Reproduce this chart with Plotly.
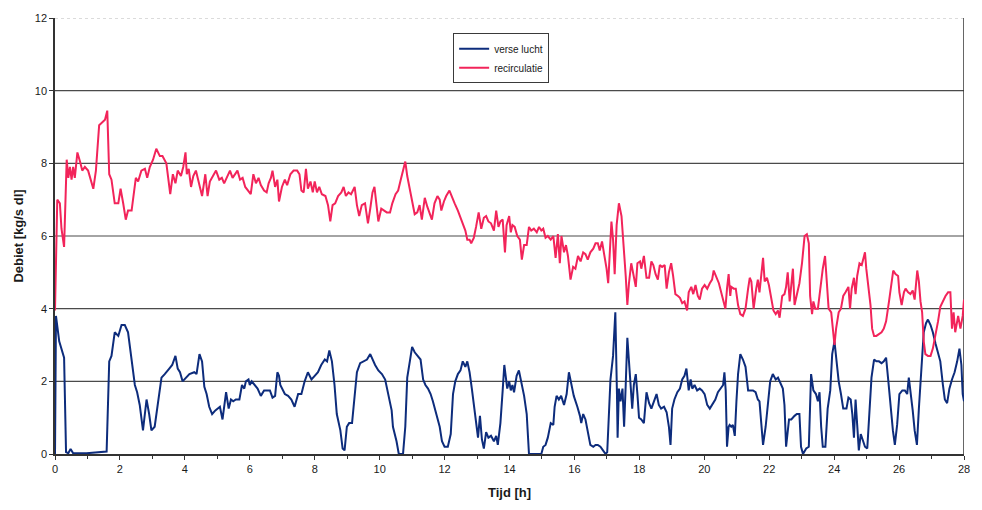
import plotly.graph_objects as go

# Debiet over tijd: verse lucht (blauw) en recirculatie (rood)
verse_t = [0.00, 0.03, 0.13, 0.20, 0.28, 0.34, 0.41, 0.48, 0.56, 0.97, 1.48, 1.59, 1.67, 1.74, 1.84,
           1.95, 2.05, 2.15, 2.25, 2.36, 2.46, 2.53, 2.61, 2.71, 2.82, 2.90, 2.97, 3.07, 3.17, 3.28,
           3.38, 3.42, 3.52, 3.61, 3.71, 3.78, 3.85, 3.93, 4.04, 4.14, 4.29, 4.36, 4.45, 4.53, 4.60,
           4.67, 4.75, 4.84, 4.94, 5.01, 5.08, 5.16, 5.21, 5.27, 5.35, 5.42, 5.49, 5.57, 5.68, 5.76,
           5.83, 5.88, 5.96, 6.00, 6.06, 6.14, 6.24, 6.34, 6.44, 6.55, 6.62, 6.70, 6.78, 6.85, 6.90,
           6.94, 6.99, 7.08, 7.18, 7.28, 7.38, 7.49, 7.59, 7.69, 7.79, 7.90, 8.00, 8.10, 8.20, 8.31,
           8.38, 8.45, 8.53, 8.61, 8.68, 8.79, 8.86, 8.92, 8.99, 9.06, 9.15, 9.23, 9.30, 9.40, 9.50,
           9.61, 9.71, 9.78, 9.86, 9.96, 10.07, 10.17, 10.27, 10.37, 10.41, 10.52, 10.59, 10.72, 10.79,
           10.85, 10.93, 11.00, 11.08, 11.16, 11.26, 11.34, 11.41, 11.49, 11.57, 11.64, 11.74, 11.85,
           11.92, 12.00, 12.10, 12.19, 12.26, 12.33, 12.41, 12.49, 12.56, 12.64, 12.70, 12.77, 12.84,
           12.92, 12.97, 13.03, 13.09, 13.15, 13.21, 13.28, 13.35, 13.43, 13.52, 13.59, 13.64, 13.72,
           13.79, 13.84, 13.93, 13.99, 14.04, 14.09, 14.14, 14.22, 14.29, 14.36, 14.45, 14.53, 14.60,
           14.98, 15.04, 15.11, 15.18, 15.27, 15.35, 15.39, 15.45, 15.52, 15.59, 15.68, 15.76, 15.83,
           15.90, 15.98, 16.09, 16.17, 16.21, 16.27, 16.34, 16.41, 16.49, 16.58, 16.65, 16.72, 16.80,
           16.88, 16.96, 17.01, 17.06, 17.11, 17.19, 17.26, 17.31, 17.33, 17.37, 17.42, 17.48, 17.53,
           17.58, 17.63, 17.68, 17.73, 17.78, 17.83, 17.89, 17.94, 17.99, 18.06, 18.14, 18.22, 18.30,
           18.37, 18.45, 18.53, 18.60, 18.67, 18.76, 18.84, 18.91, 18.96, 19.01, 19.08, 19.17, 19.25,
           19.32, 19.39, 19.45, 19.52, 19.58, 19.63, 19.70, 19.78, 19.86, 19.93, 20.01, 20.09, 20.17,
           20.24, 20.34, 20.42, 20.50, 20.58, 20.62, 20.66, 20.70, 20.75, 20.78, 20.83, 20.88, 20.94,
           20.99, 21.04, 21.11, 21.19, 21.27, 21.35, 21.42, 21.50, 21.58, 21.65, 21.70, 21.76, 21.81,
           21.89, 21.96, 22.03, 22.11, 22.20, 22.27, 22.34, 22.42, 22.47, 22.52, 22.61, 22.68, 22.78,
           22.85, 22.93, 22.98, 23.04, 23.09, 23.14, 23.22, 23.29, 23.36, 23.44, 23.50, 23.55, 23.60,
           23.65, 23.73, 23.80, 23.88, 23.94, 24.01, 24.08, 24.14, 24.21, 24.28, 24.38, 24.44, 24.51,
           24.56, 24.61, 24.66, 24.71, 24.76, 24.82, 24.89, 24.95, 25.02, 25.09, 25.15, 25.23, 25.30,
           25.38, 25.46, 25.53, 25.60, 25.67, 25.74, 25.81, 25.87, 25.94, 26.01, 26.10, 26.18, 26.25,
           26.30, 26.35, 26.42, 26.48, 26.55, 26.61, 26.69, 26.76, 26.83, 26.89, 26.97, 27.04, 27.12,
           27.20, 27.27, 27.35, 27.41, 27.48, 27.55, 27.63, 27.71, 27.79, 27.86, 27.92, 27.96, 28.00]
verse_v = [0.00, 3.80, 3.10, 2.90, 2.65, 0.05, 0.02, 0.14, 0.02, 0.02, 0.05, 0.07, 2.55, 2.70, 3.35,
           3.25, 3.55, 3.55, 3.35, 2.65, 1.90, 1.70, 1.35, 0.65, 1.50, 1.10, 0.65, 0.75, 1.45, 2.10,
           2.20, 2.25, 2.35, 2.45, 2.70, 2.35, 2.25, 2.00, 2.10, 2.20, 2.25, 2.20, 2.75, 2.55, 1.85,
           1.65, 1.30, 1.10, 1.20, 1.25, 1.30, 0.95, 1.30, 1.70, 1.25, 1.50, 1.45, 1.50, 1.50, 1.90,
           1.80, 2.00, 2.05, 1.90, 2.00, 1.90, 1.80, 1.60, 1.75, 1.75, 1.75, 1.55, 1.60, 2.25, 2.15,
           1.90, 1.80, 1.65, 1.60, 1.50, 1.30, 1.65, 1.65, 2.00, 2.25, 2.05, 2.15, 2.25, 2.45, 2.60,
           2.55, 2.85, 2.55, 1.90, 1.10, 0.65, 0.15, 0.10, 0.75, 0.85, 0.85, 1.65, 2.25, 2.50, 2.55,
           2.60, 2.75, 2.60, 2.45, 2.30, 2.20, 2.05, 1.65, 1.20, 0.75, 0.35, 0.00, 0.00, 0.75,
           2.10, 2.55, 2.95, 2.80, 2.70, 2.60, 2.05, 1.90, 1.80, 1.65, 1.45, 1.10, 0.75,
           0.35, 0.20, 0.20, 0.55, 1.65, 2.00, 2.20, 2.30, 2.55, 2.40, 2.55, 2.25, 1.80,
           1.25, 0.80, 0.45, 1.05, 0.40, 0.15, 0.60, 0.45, 0.50, 0.35, 0.50, 0.25, 0.85,
           1.75, 2.45, 1.80, 2.00, 1.75, 1.90, 1.70, 2.15, 2.30, 2.00, 1.60, 1.10, 0.00,
           0.00, 0.20, 0.25, 0.45, 0.85, 0.80, 1.30, 1.60, 1.50, 1.60, 1.35, 1.65, 2.25,
           1.90, 1.60, 1.30, 1.05, 0.85, 1.10, 0.95, 0.65, 0.25, 0.20, 0.25, 0.25, 0.20,
           0.10, 0.00, 0.05, 1.15, 2.05, 2.70, 3.90, 1.65, 0.45, 1.80, 1.45, 1.80, 0.75,
           1.90, 3.20, 2.55, 1.80, 1.25, 1.90, 2.20, 1.65, 1.00, 0.95, 0.85, 1.70, 1.40,
           1.25, 1.45, 1.65, 1.35, 1.25, 1.30, 1.15, 0.75, 0.25, 1.25, 1.50, 1.70, 1.80,
           2.05, 2.15, 2.35, 1.75, 2.05, 1.80, 1.90, 1.75, 1.80, 1.75, 1.65, 1.35, 1.25,
           1.35, 1.50, 1.70, 1.80, 1.90, 2.25, 1.75, 0.20, 0.75, 0.80, 0.75, 0.80, 0.50,
           1.45, 2.20, 2.75, 2.60, 2.40, 1.75, 1.75, 1.75, 1.70, 1.50, 1.45, 0.75, 0.25,
           0.75, 1.45, 2.00, 2.20, 2.05, 2.10, 1.95, 1.80, 1.35, 0.20, 0.95, 0.95, 1.05,
           1.10, 1.10, 0.20, 0.00, 0.10, 0.15, 0.20, 2.20, 1.75, 1.65, 1.45, 1.70, 0.75,
           0.20, 0.20, 1.25, 1.75, 2.75, 3.10, 2.55, 2.00, 1.65, 1.25, 1.25, 1.55, 1.50,
           1.10, 0.45, 1.50, 0.80, 0.10, 0.55, 0.35, 0.20, 0.15, 1.20, 2.10, 2.60, 2.55,
           2.55, 2.50, 2.55, 2.65, 2.00, 1.25, 0.65, 0.25, 0.80, 1.65, 1.75, 1.75, 1.65,
           2.10, 1.75, 1.20, 0.65, 0.25, 1.25, 2.55, 3.35, 3.60, 3.70, 3.55, 3.35, 3.05,
           2.75, 2.55, 1.90, 1.50, 1.40, 1.80, 2.05, 2.25, 2.55, 2.90, 2.45, 1.65, 1.45]

recirc_t = [0.00, 0.07, 0.15, 0.20, 0.28, 0.34, 0.36, 0.41, 0.46, 0.51, 0.56, 0.61, 0.69, 0.77, 0.84,
            0.92, 1.02, 1.18, 1.26, 1.36, 1.48, 1.54, 1.61, 1.67, 1.74, 1.84, 1.95, 2.02, 2.10, 2.18,
            2.25, 2.36, 2.49, 2.56, 2.66, 2.77, 2.84, 2.92, 3.02, 3.12, 3.23, 3.31, 3.43, 3.48, 3.55,
            3.63, 3.71, 3.78, 3.88, 3.95, 4.02, 4.06, 4.12, 4.19, 4.26, 4.34, 4.43, 4.53, 4.63, 4.70,
            4.77, 4.86, 4.96, 5.06, 5.14, 5.21, 5.32, 5.39, 5.47, 5.55, 5.62, 5.70, 5.78, 5.86, 5.96,
            6.03, 6.11, 6.19, 6.27, 6.34, 6.44, 6.52, 6.58, 6.65, 6.70, 6.78, 6.85, 6.90, 6.99, 7.08,
            7.15, 7.25, 7.35, 7.46, 7.53, 7.59, 7.66, 7.73, 7.79, 7.87, 7.94, 8.00, 8.07, 8.14, 8.22,
            8.33, 8.41, 8.48, 8.55, 8.63, 8.72, 8.82, 8.89, 8.96, 9.04, 9.12, 9.23, 9.30, 9.37, 9.45,
            9.55, 9.64, 9.71, 9.78, 9.84, 9.91, 9.96, 10.05, 10.12, 10.22, 10.32, 10.39, 10.49, 10.57,
            10.65, 10.72, 10.79, 10.85, 10.93, 11.00, 11.08, 11.16, 11.23, 11.30, 11.39, 11.47, 11.54,
            11.61, 11.69, 11.78, 11.85, 11.90, 11.98, 12.05, 12.15, 12.23, 12.31, 12.41, 12.49, 12.56,
            12.64, 12.70, 12.77, 12.82, 12.90, 12.97, 13.05, 13.13, 13.21, 13.28, 13.35, 13.43, 13.52,
            13.59, 13.66, 13.72, 13.79, 13.86, 13.91, 13.99, 14.04, 14.09, 14.16, 14.24, 14.32, 14.38,
            14.45, 14.53, 14.60, 14.67, 14.75, 14.84, 14.91, 14.98, 15.04, 15.11, 15.18, 15.27, 15.35,
            15.42, 15.49, 15.55, 15.60, 15.68, 15.74, 15.80, 15.88, 15.96, 16.03, 16.11, 16.19, 16.27,
            16.34, 16.41, 16.49, 16.58, 16.65, 16.72, 16.78, 16.85, 16.93, 16.99, 17.04, 17.09, 17.14,
            17.19, 17.24, 17.30, 17.37, 17.45, 17.51, 17.58, 17.63, 17.68, 17.75, 17.81, 17.89, 17.94,
            18.02, 18.06, 18.14, 18.22, 18.30, 18.37, 18.43, 18.50, 18.57, 18.63, 18.70, 18.78, 18.84,
            18.91, 18.98, 19.04, 19.11, 19.19, 19.25, 19.32, 19.39, 19.47, 19.52, 19.60, 19.66, 19.73,
            19.80, 19.86, 19.93, 20.01, 20.09, 20.17, 20.24, 20.29, 20.37, 20.45, 20.52, 20.60, 20.65,
            20.70, 20.75, 20.80, 20.83, 20.91, 20.97, 21.04, 21.11, 21.19, 21.27, 21.35, 21.40, 21.45,
            21.52, 21.60, 21.65, 21.70, 21.76, 21.81, 21.86, 21.93, 21.99, 22.06, 22.13, 22.20, 22.27,
            22.32, 22.40, 22.47, 22.52, 22.57, 22.63, 22.68, 22.73, 22.78, 22.85, 22.93, 23.01, 23.09,
            23.16, 23.22, 23.26, 23.32, 23.36, 23.42, 23.50, 23.57, 23.65, 23.72, 23.77, 23.83, 23.91,
            23.96, 24.01, 24.06, 24.14, 24.21, 24.28, 24.35, 24.44, 24.49, 24.54, 24.61, 24.66, 24.71,
            24.78, 24.85, 24.89, 24.95, 24.99, 25.05, 25.12, 25.17, 25.23, 25.30, 25.38, 25.46, 25.53,
            25.60, 25.69, 25.77, 25.82, 25.89, 25.97, 26.01, 26.08, 26.15, 26.20, 26.28, 26.35, 26.42,
            26.48, 26.56, 26.61, 26.66, 26.71, 26.76, 26.81, 26.89, 26.97, 27.04, 27.12, 27.20, 27.27,
            27.35, 27.43, 27.51, 27.58, 27.63, 27.68, 27.73, 27.82, 27.89, 27.96, 28.00]
recirc_v = [3.95, 7.00, 6.90, 6.20, 5.70, 7.60, 8.10, 7.60, 7.90, 7.55, 7.90, 7.60, 8.30, 8.05, 7.80,
            7.90, 7.80, 7.30, 7.80, 9.05, 9.15, 9.20, 9.45, 7.70, 7.55, 6.90, 6.90, 7.30, 6.90, 6.45,
            6.70, 6.70, 7.60, 7.50, 7.80, 7.85, 7.60, 7.90, 8.10, 8.40, 8.20, 8.20, 8.00, 7.70, 7.15,
            7.70, 7.45, 7.80, 7.65, 7.90, 8.30, 7.70, 7.85, 7.35, 7.65, 7.80, 7.45, 7.10, 7.70, 7.10,
            7.50, 7.65, 7.80, 7.55, 7.60, 7.45, 7.65, 7.80, 7.60, 7.70, 7.80, 7.55, 7.60, 7.35, 7.25,
            7.15, 7.70, 7.45, 7.60, 7.40, 7.25, 7.20, 7.45, 7.60, 7.80, 7.35, 7.55, 6.95, 7.35, 7.55,
            7.40, 7.70, 7.80, 7.80, 7.70, 7.25, 7.20, 7.85, 7.30, 7.50, 7.20, 7.50, 7.20, 7.35, 7.15,
            7.10, 6.85, 6.40, 6.85, 6.90, 7.10, 7.20, 7.35, 7.10, 7.20, 7.15, 7.35, 6.85, 6.55, 6.85,
            6.90, 6.35, 6.75, 7.20, 7.35, 6.85, 6.40, 6.75, 6.70, 6.65, 6.65, 6.90, 7.15, 7.25,
            7.55, 7.80, 8.05, 7.65, 7.25, 6.90, 6.60, 6.65, 6.85, 6.45, 7.05, 6.80, 6.60,
            6.45, 6.90, 7.10, 7.00, 6.70, 6.95, 7.10, 7.25, 7.05, 6.90, 6.70, 6.50, 6.35,
            6.15, 5.90, 5.90, 5.80, 5.95, 6.25, 6.65, 6.20, 6.50, 6.55, 6.40, 6.35, 6.15,
            6.70, 6.25, 6.40, 6.45, 5.55, 6.30, 6.55, 6.10, 6.30, 6.25, 6.00, 5.90, 5.35,
            5.75, 5.75, 6.25, 6.15, 6.20, 6.10, 6.25, 6.15, 6.20, 5.95, 6.00, 5.90, 6.00,
            5.40, 6.05, 5.25, 6.00, 5.55, 5.75, 5.45, 4.80, 5.15, 5.10, 5.45, 5.30, 5.55,
            5.50, 5.35, 5.55, 5.65, 5.80, 5.80, 5.60, 5.85, 5.45, 5.10, 4.70, 5.80, 6.40,
            5.90, 4.95, 6.30, 6.90, 6.55, 5.90, 4.90, 4.10, 4.70, 5.25, 5.00, 4.60, 5.25,
            5.30, 5.10, 5.45, 4.85, 4.85, 5.30, 5.20, 4.95, 4.80, 5.20, 5.15, 5.20, 4.55,
            5.00, 5.25, 4.90, 4.40, 4.35, 4.30, 4.15, 4.20, 3.95, 4.45, 4.60, 4.40, 4.65,
            4.35, 4.25, 4.55, 4.65, 4.55, 4.70, 4.80, 5.05, 4.85, 4.70, 4.45, 4.20, 4.00,
            4.55, 4.95, 4.35, 4.60, 4.55, 4.55, 4.10, 3.85, 3.80, 4.00, 4.55, 4.85, 4.75,
            4.00, 4.55, 4.80, 4.45, 5.10, 5.40, 4.75, 4.85, 4.65, 4.35, 3.95, 3.85, 3.95,
            3.75, 4.35, 4.40, 4.60, 5.00, 4.20, 4.65, 5.10, 4.10, 4.35, 4.70, 5.25, 6.00,
            6.05, 5.80, 4.35, 3.85, 4.20, 4.00, 4.00, 4.55, 5.10, 5.45, 4.75, 4.00, 3.90,
            3.45, 3.00, 3.45, 3.90, 4.00, 4.35, 4.45, 4.60, 4.00, 4.55, 4.85, 4.40, 4.90,
            5.25, 5.20, 5.35, 5.55, 5.10, 4.60, 4.10, 3.45, 3.25, 3.25, 3.30, 3.35, 3.45,
            3.65, 4.20, 4.75, 5.05, 4.95, 4.90, 4.45, 4.10, 4.45, 4.55, 4.45, 4.40, 4.50,
            4.25, 5.05, 4.75, 4.20, 3.90, 3.10, 2.75, 2.70, 2.70, 2.90, 3.25, 3.65, 4.05,
            4.20, 4.35, 4.45, 4.45, 3.45, 3.90, 3.35, 3.80, 3.45, 3.80, 4.25]

x_ticks = list(range(0, 29, 2))
y_ticks = list(range(0, 13, 2))
grid_levels = [2, 4, 6, 8, 10]

FONT = "Liberation Sans, Arial, sans-serif"

fig = go.Figure()
fig.add_trace(go.Scatter(x=verse_t, y=verse_v, mode="lines", name="verse lucht",
                         line=dict(color="#0d2c7c", width=2)))
fig.add_trace(go.Scatter(x=recirc_t, y=recirc_v, mode="lines", name="recirculatie",
                         line=dict(color="#f2245a", width=2)))

shapes = []
for g in grid_levels:
    shapes.append(dict(type="line", xref="paper", yref="y", x0=0, x1=1, y0=g, y1=g,
                       line=dict(color="#4a4a4a", width=1.2), layer="below"))
# faint top boundary and solid right boundary of the plot area
shapes.append(dict(type="line", xref="paper", yref="y", x0=0, x1=1, y0=12, y1=12,
                   line=dict(color="#b8b8b8", width=1, dash="dot"), layer="below"))
shapes.append(dict(type="line", xref="x", yref="paper", x0=28, x1=28, y0=0, y1=1,
                   line=dict(color="#333333", width=1.5), layer="below"))

fig.update_layout(
    width=982, height=510,
    margin=dict(l=55, r=12, t=15, b=55),
    paper_bgcolor="white", plot_bgcolor="white",
    font=dict(family=FONT, size=11, color="#1a1a1a"),
    shapes=shapes,
    showlegend=True,
    legend=dict(x=0.438, y=0.965, xanchor="left", yanchor="top",
                bgcolor="white", bordercolor="#3a3a3a", borderwidth=1,
                font=dict(family=FONT, size=10, color="#1a1a1a"),
                tracegroupgap=0, itemwidth=30),
    xaxis=dict(range=[0, 28], tickvals=x_ticks, ticks="outside", ticklen=4,
               tickcolor="#333", showline=True, linecolor="#333", linewidth=1.5,
               showgrid=False, zeroline=False,
               minor=dict(dtick=1, ticks="outside", ticklen=3, tickcolor="#333"),
               tickfont=dict(family=FONT, size=11, color="#1a1a1a"),
               title=dict(text="<b>Tijd [h]</b>", standoff=14,
                          font=dict(family=FONT, size=13, color="#1a1a1a"))),
    yaxis=dict(range=[0, 12], tickvals=y_ticks, ticks="outside", ticklen=4,
               tickcolor="#333", showline=True, linecolor="#333", linewidth=1.5,
               showgrid=False, zeroline=False,
               tickfont=dict(family=FONT, size=11, color="#1a1a1a"),
               title=dict(text="<b>Debiet [kg/s dl]</b>", standoff=8,
                          font=dict(family=FONT, size=13, color="#1a1a1a"))),
)

fig.write_html("out.html")
